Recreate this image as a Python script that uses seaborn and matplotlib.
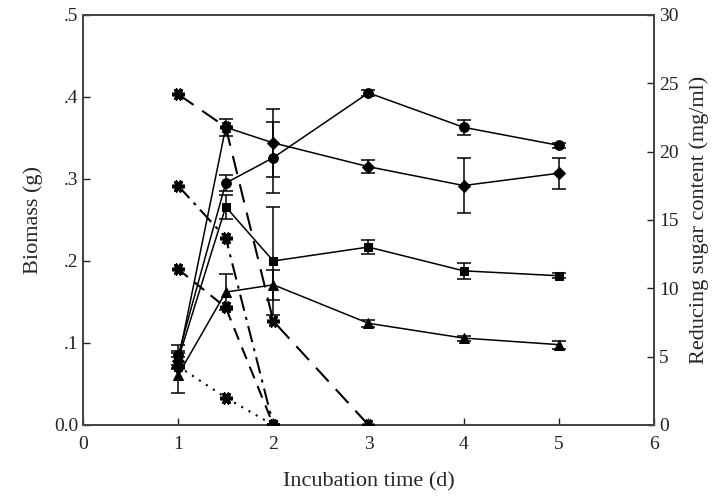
import numpy as np
import pandas as pd
import seaborn as sns
import matplotlib.pyplot as plt

# Biomass (g), solid lines
days = [1, 1.5, 2, 3, 4, 5]
circle_vals = [0.085, 0.295, 0.326, 0.405, 0.363, 0.341]
circle_err = [0.012, 0.010, 0.043, 0.004, 0.009, 0.003]
diamond_vals = [0.078, 0.363, 0.344, 0.315, 0.292, 0.307]
diamond_err = [0.010, 0.010, 0.041, 0.008, 0.033, 0.019]
square_vals = [0.080, 0.266, 0.200, 0.217, 0.188, 0.182]
square_err = [0.010, 0.015, 0.066, 0.009, 0.010, 0.003]
triangle_vals = [0.061, 0.162, 0.171, 0.124, 0.106, 0.098]
triangle_err = [0.022, 0.022, 0.018, 0.004, 0.003, 0.005]

# Reducing sugar (mg/ml), star markers
sugar_a_days = [1, 1.5, 2, 3]
sugar_a = [24.2, 21.8, 7.6, 0.0]
sugar_b_days = [1, 1.5, 2]
sugar_b = [17.5, 13.7, 0.0]
sugar_c_days = [1, 1.5, 2]
sugar_c = [11.4, 8.6, 0.0]
sugar_d_days = [1, 1.5, 2]
sugar_d = [4.3, 2.0, 0.0]

sns.set_style('ticks')
plt.rcParams['font.family'] = ['Liberation Serif', 'DejaVu Serif']

fig = plt.figure(figsize=(7.26, 4.99), dpi=100)
ax = fig.add_axes([0.1143, 0.1483, 0.7865, 0.8217])
ax2 = ax.twinx()

# biomass series
for vals, err, mk, ms in [(circle_vals, circle_err, 'o', 7),
                          (diamond_vals, diamond_err, 'D', 6),
                          (square_vals, square_err, 's', 6),
                          (triangle_vals, triangle_err, '^', 6.5)]:
    df = pd.DataFrame({'day': days, 'val': vals})
    sns.lineplot(x='day', y='val', data=df, ax=ax, color='black', lw=1.1,
                 marker=mk, markersize=ms, markeredgecolor='black', zorder=3)
    ax.errorbar(days, vals, yerr=err, fmt='none', ecolor='black',
                elinewidth=1.1, capsize=5, capthick=1.1, zorder=2)

# sugar series
star = (6, 2, 90)
for d, v, ls in [(sugar_a_days, sugar_a, (0, (9, 5))),
                 (sugar_b_days, sugar_b, (0, (8, 3, 1.5, 3))),
                 (sugar_c_days, sugar_c, (0, (6, 4))),
                 (sugar_d_days, sugar_d, (0, (1, 3)))]:
    df = pd.DataFrame({'day': d, 'val': v})
    sns.lineplot(x='day', y='val', data=df, ax=ax2, color='black', lw=1.5,
                 linestyle=ls, marker=star, markersize=9, mew=2.6,
                 markeredgecolor='black', zorder=3)

ax.set_xlim(0, 6)
ax.set_ylim(0, 0.5)
ax2.set_ylim(0, 30)
ax.set_xticks(range(7))
ax.set_yticks([0, 0.1, 0.2, 0.3, 0.4, 0.5])
ax.set_yticklabels(['0.0', '.1', '.2', '.3', '.4', '.5'])
ax2.set_yticks(range(0, 31, 5))

ax.tick_params(direction='in', length=5, width=1, labelsize=14, colors='#222222')
ax2.tick_params(direction='in', length=5, width=1, labelsize=14, colors='#222222')
ax.tick_params(axis='x', pad=8)
for a in (ax, ax2):
    for s in a.spines.values():
        s.set_color('#444444')
        s.set_linewidth(1.3)

ax.set_xlabel('Incubation time (d)', fontsize=16, labelpad=14)
ax.set_ylabel('Biomass (g)', fontsize=16, labelpad=8)
ax2.set_ylabel('Reducing sugar content (mg/ml)', fontsize=16, labelpad=8)
ax2.set_xlabel('')

fig.savefig('out.png', dpi=100)
